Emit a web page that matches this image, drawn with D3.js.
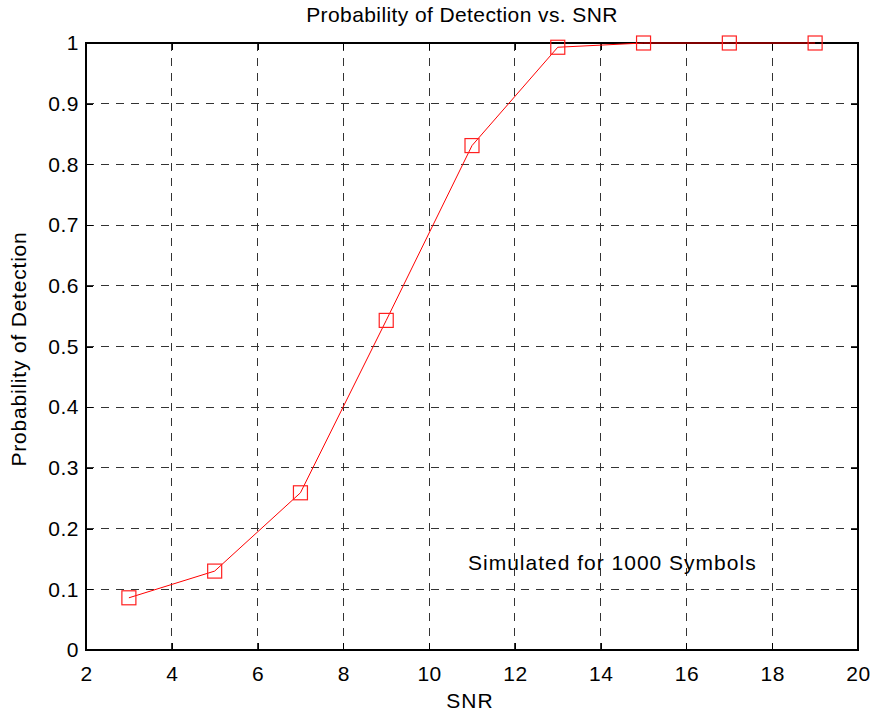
<!DOCTYPE html>
<html>
<head>
<meta charset="utf-8">
<script src="https://cdn.jsdelivr.net/npm/d3@7"></script>
<style>
  body { margin: 0; background: #fff; }
  svg text { font-family: Arial, "Liberation Sans", sans-serif; fill: #000; }
</style>
</head>
<body>
<div id="chart"></div>
<script>
// SNR values and simulated detection probability
var snr = [3, 5, 7, 9, 11, 13, 15, 17, 19];
var pd = [0.086, 0.130, 0.259, 0.543, 0.831, 0.993, 1.0, 1.0, 1.0];

var xTicks = [2, 4, 6, 8, 10, 12, 14, 16, 18, 20];
var yTicks = [0, 0.1, 0.2, 0.3, 0.4, 0.5, 0.6, 0.7, 0.8, 0.9, 1];

var W = 876, H = 717;
var pL = 86, pR = 858, pT = 43, pB = 650;

var svg = d3.select("#chart").append("svg")
    .attr("width", W).attr("height", H);

var x = d3.scaleLinear().domain([2, 20]).range([pL, pR]);
var y = d3.scaleLinear().domain([0, 1]).range([pB, pT]);

// dashed grid
var grid = svg.append("g");
grid.selectAll("line.vx").data(xTicks.slice(1, -1)).enter().append("line")
    .attr("x1", function(d) { return x(d); }).attr("x2", function(d) { return x(d); })
    .attr("y1", pT).attr("y2", pB);
grid.selectAll("line.hy").data(yTicks.slice(1, -1)).enter().append("line")
    .attr("y1", function(d) { return y(d); }).attr("y2", function(d) { return y(d); })
    .attr("x1", pL).attr("x2", pR);
grid.selectAll("line")
    .attr("stroke", "#333").attr("stroke-width", 1)
    .attr("stroke-dasharray", "8,7")
    .attr("shape-rendering", "crispEdges");

// axes with inward ticks on all four sides
function styleAxis(g) {
    g.select(".domain").remove();
    g.selectAll("line").attr("stroke", "#000").attr("shape-rendering", "crispEdges");
    g.selectAll("text").style("font-size", "21px").style("letter-spacing", "0.5px")
        .style("font-family", "Arial, 'Liberation Sans', sans-serif");
}
var fmt = function(d) { return d3.format("")(d); };

svg.append("g").attr("transform", "translate(0," + pB + ")")
    .call(d3.axisBottom(x).tickValues(xTicks).tickFormat(fmt).tickSizeInner(-7).tickPadding(16))
    .call(styleAxis);
svg.append("g").attr("transform", "translate(0," + pT + ")")
    .call(d3.axisTop(x).tickValues(xTicks).tickFormat("").tickSizeInner(-7))
    .call(styleAxis);
svg.append("g").attr("transform", "translate(" + pL + ",0)")
    .call(d3.axisLeft(y).tickValues(yTicks).tickFormat(fmt).tickSizeInner(-7).tickPadding(7))
    .call(styleAxis);
svg.append("g").attr("transform", "translate(" + pR + ",0)")
    .call(d3.axisRight(y).tickValues(yTicks).tickFormat("").tickSizeInner(-7))
    .call(styleAxis);

// box
svg.append("rect")
    .attr("x", pL).attr("y", pT)
    .attr("width", pR - pL).attr("height", pB - pT)
    .attr("fill", "none").attr("stroke", "#000").attr("stroke-width", 1.3)
    .attr("shape-rendering", "crispEdges");

// data line and square markers
var pts = snr.map(function(d, i) { return [d, pd[i]]; });
svg.append("path")
    .datum(pts)
    .attr("fill", "none").attr("stroke", "#ff0000").attr("stroke-width", 1)
    .attr("d", d3.line().x(function(d) { return x(d[0]); }).y(function(d) { return y(d[1]); }));

var m = 14;
svg.selectAll("rect.mk").data(pts).enter().append("rect")
    .attr("class", "mk")
    .attr("x", function(d) { return x(d[0]) - m / 2; })
    .attr("y", function(d) { return y(d[1]) - m / 2; })
    .attr("width", m).attr("height", m)
    .attr("fill", "none").attr("stroke", "#ff2020").attr("stroke-width", 1.2);

// texts
svg.append("text").attr("x", 462).attr("y", 22).attr("text-anchor", "middle")
    .style("font-size", "21px").style("letter-spacing", "0.4px")
    .text("Probability of Detection vs. SNR");
svg.append("text").attr("x", 470).attr("y", 708).attr("text-anchor", "middle")
    .style("font-size", "21px").style("letter-spacing", "1px").text("SNR");
svg.append("text").attr("transform", "translate(26,349) rotate(-90)").attr("text-anchor", "middle")
    .style("font-size", "21px").style("letter-spacing", "0.8px").text("Probability of Detection");
svg.append("text").attr("x", 468).attr("y", 570)
    .style("font-size", "21px").style("letter-spacing", "1px").text("Simulated for 1000 Symbols");
</script>
</body>
</html>
